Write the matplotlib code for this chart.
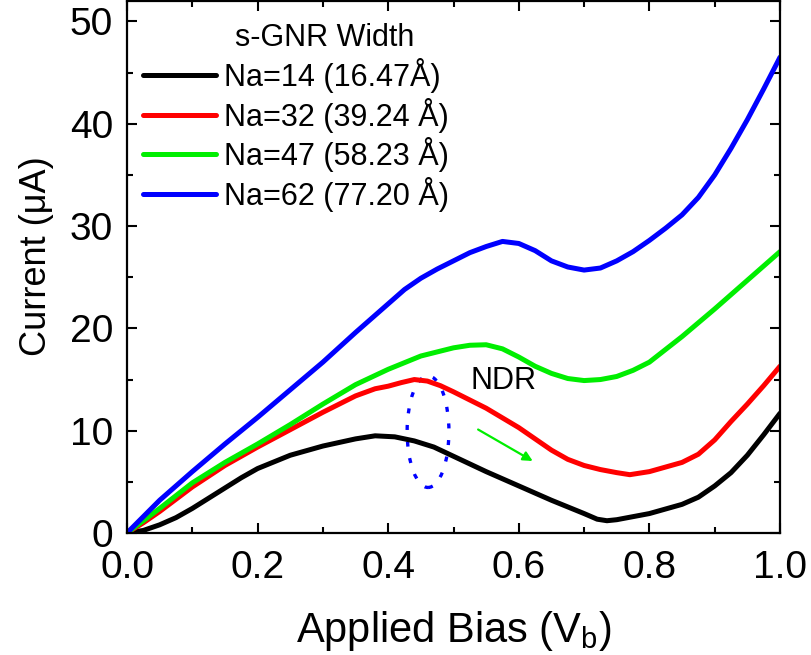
import matplotlib
matplotlib.use('Agg')
import matplotlib.pyplot as plt
from matplotlib.patches import Ellipse
from matplotlib.ticker import MultipleLocator

plt.rcParams['font.family'] = ['Liberation Sans', 'DejaVu Sans']
plt.rcParams['mathtext.fontset'] = 'custom'
plt.rcParams['mathtext.rm'] = 'Liberation Sans'

# I-V data (bias in V, current in uA)
v_14 = [0.0, 0.025, 0.05, 0.075, 0.10, 0.125, 0.15, 0.175, 0.20, 0.25, 0.30, 0.35,
        0.38, 0.41, 0.44, 0.47, 0.50, 0.55, 0.60, 0.65, 0.70, 0.72, 0.735, 0.75,
        0.80, 0.85, 0.875, 0.90, 0.925, 0.95, 0.975, 1.00]
i_14 = [0.0, 0.25, 0.8, 1.5, 2.4, 3.4, 4.4, 5.4, 6.3, 7.6, 8.5, 9.2,
        9.5, 9.4, 9.0, 8.4, 7.5, 6.0, 4.6, 3.2, 1.9, 1.35, 1.2, 1.3,
        1.9, 2.8, 3.5, 4.6, 5.9, 7.6, 9.6, 11.7]

v_32 = [0.0, 0.025, 0.05, 0.075, 0.10, 0.15, 0.20, 0.25, 0.30, 0.35, 0.38, 0.40,
        0.42, 0.44, 0.46, 0.48, 0.50, 0.55, 0.60, 0.65, 0.675, 0.70, 0.725, 0.75,
        0.77, 0.80, 0.85, 0.875, 0.90, 0.925, 0.95, 0.975, 1.00]
i_32 = [0.0, 1.0, 2.1, 3.3, 4.5, 6.6, 8.4, 10.1, 11.8, 13.4, 14.1, 14.35,
        14.7, 15.0, 14.85, 14.4, 13.8, 12.2, 10.3, 8.1, 7.2, 6.6, 6.2, 5.9,
        5.7, 6.0, 6.9, 7.7, 9.1, 10.9, 12.6, 14.4, 16.3]

v_47 = [0.0, 0.05, 0.10, 0.15, 0.20, 0.25, 0.30, 0.35, 0.40, 0.45, 0.50, 0.525,
        0.55, 0.575, 0.60, 0.625, 0.65, 0.675, 0.70, 0.725, 0.75, 0.775, 0.80,
        0.85, 0.90, 0.95, 1.00]
i_47 = [0.0, 2.4, 4.9, 6.9, 8.7, 10.6, 12.6, 14.5, 16.0, 17.3, 18.1, 18.35,
        18.4, 18.0, 17.2, 16.3, 15.6, 15.1, 14.9, 15.0, 15.3, 15.9, 16.7,
        19.2, 21.9, 24.7, 27.5]

v_62 = [0.0, 0.05, 0.10, 0.15, 0.20, 0.25, 0.30, 0.35, 0.40, 0.425, 0.45, 0.475,
        0.50, 0.525, 0.55, 0.575, 0.60, 0.625, 0.65, 0.675, 0.70, 0.725, 0.75,
        0.775, 0.80, 0.825, 0.85, 0.875, 0.90, 0.925, 0.95, 0.975, 1.00]
i_62 = [0.0, 3.2, 6.0, 8.7, 11.3, 14.0, 16.7, 19.6, 22.4, 23.8, 24.9, 25.8,
        26.6, 27.4, 28.0, 28.5, 28.3, 27.6, 26.6, 26.0, 25.7, 25.9, 26.6,
        27.5, 28.6, 29.8, 31.1, 32.8, 35.0, 37.6, 40.4, 43.4, 46.5]

labels = ['Na=14 (16.47Å)', 'Na=32 (39.24 Å)', 'Na=47 (58.23 Å)', 'Na=62 (77.20 Å)']
colors = ['#000000', '#ff0000', '#00ee00', '#0000ff']

fig = plt.figure(figsize=(8.11, 6.55), dpi=100)
ax = fig.add_axes([127/811, 1 - 533/655, 653/811, 532/655])

series = [(v_14, i_14), (v_32, i_32), (v_47, i_47), (v_62, i_62)]
for (v, i), lab, c in zip(series, labels, colors):
    ax.plot(v, i, color=c, lw=3.6, label=lab, solid_capstyle='round',
            solid_joinstyle='round')

ax.set_xlim(0, 1.0)
ax.set_ylim(0, 52)
ax.xaxis.set_major_locator(MultipleLocator(0.2))
ax.xaxis.set_minor_locator(MultipleLocator(0.1))
ax.yaxis.set_major_locator(MultipleLocator(10))
ax.yaxis.set_minor_locator(MultipleLocator(5))
ax.tick_params(which='both', direction='in', top=True, right=True, width=1.5, labelsize=28)
ax.tick_params(which='major', length=7)
ax.tick_params(which='minor', length=4)
ax.tick_params(axis='x', pad=12)
ax.tick_params(axis='y', pad=10)
for s in ax.spines.values():
    s.set_linewidth(1.6)

ax.set_xlabel('Applied Bias (V$_\\mathregular{b}$)', fontsize=30, labelpad=17)
ax.set_ylabel('Current (μA)', fontsize=26)
ax.yaxis.set_label_coords(-0.112, 0.52)

# NDR annotation
ax.add_patch(Ellipse((0.461, 9.9), 0.064, 10.9, angle=0, fill=False,
                     edgecolor='#0000ff', lw=2.4, linestyle=(0, (1.5, 3.5))))
ax.annotate('', xy=(0.625, 6.9), xytext=(0.534, 10.25),
            arrowprops=dict(arrowstyle='-|>', color='#00ee00', lw=1.6,
                            mutation_scale=14))
ax.text(0.576, 14.9, 'NDR', fontsize=22, ha='center', va='center')

ax.text(325/811, 1 - 38/655, 's-GNR Width', transform=fig.transFigure,
        fontsize=22, ha='center', va='center')
ax.legend(loc='upper left', bbox_to_anchor=(143/811, 1 - 58/655),
          bbox_transform=fig.transFigure, frameon=False, fontsize=22,
          borderpad=0, borderaxespad=0, handlelength=2.4, handletextpad=0.26,
          labelspacing=0.15)

fig.savefig('out.png', dpi=100)
